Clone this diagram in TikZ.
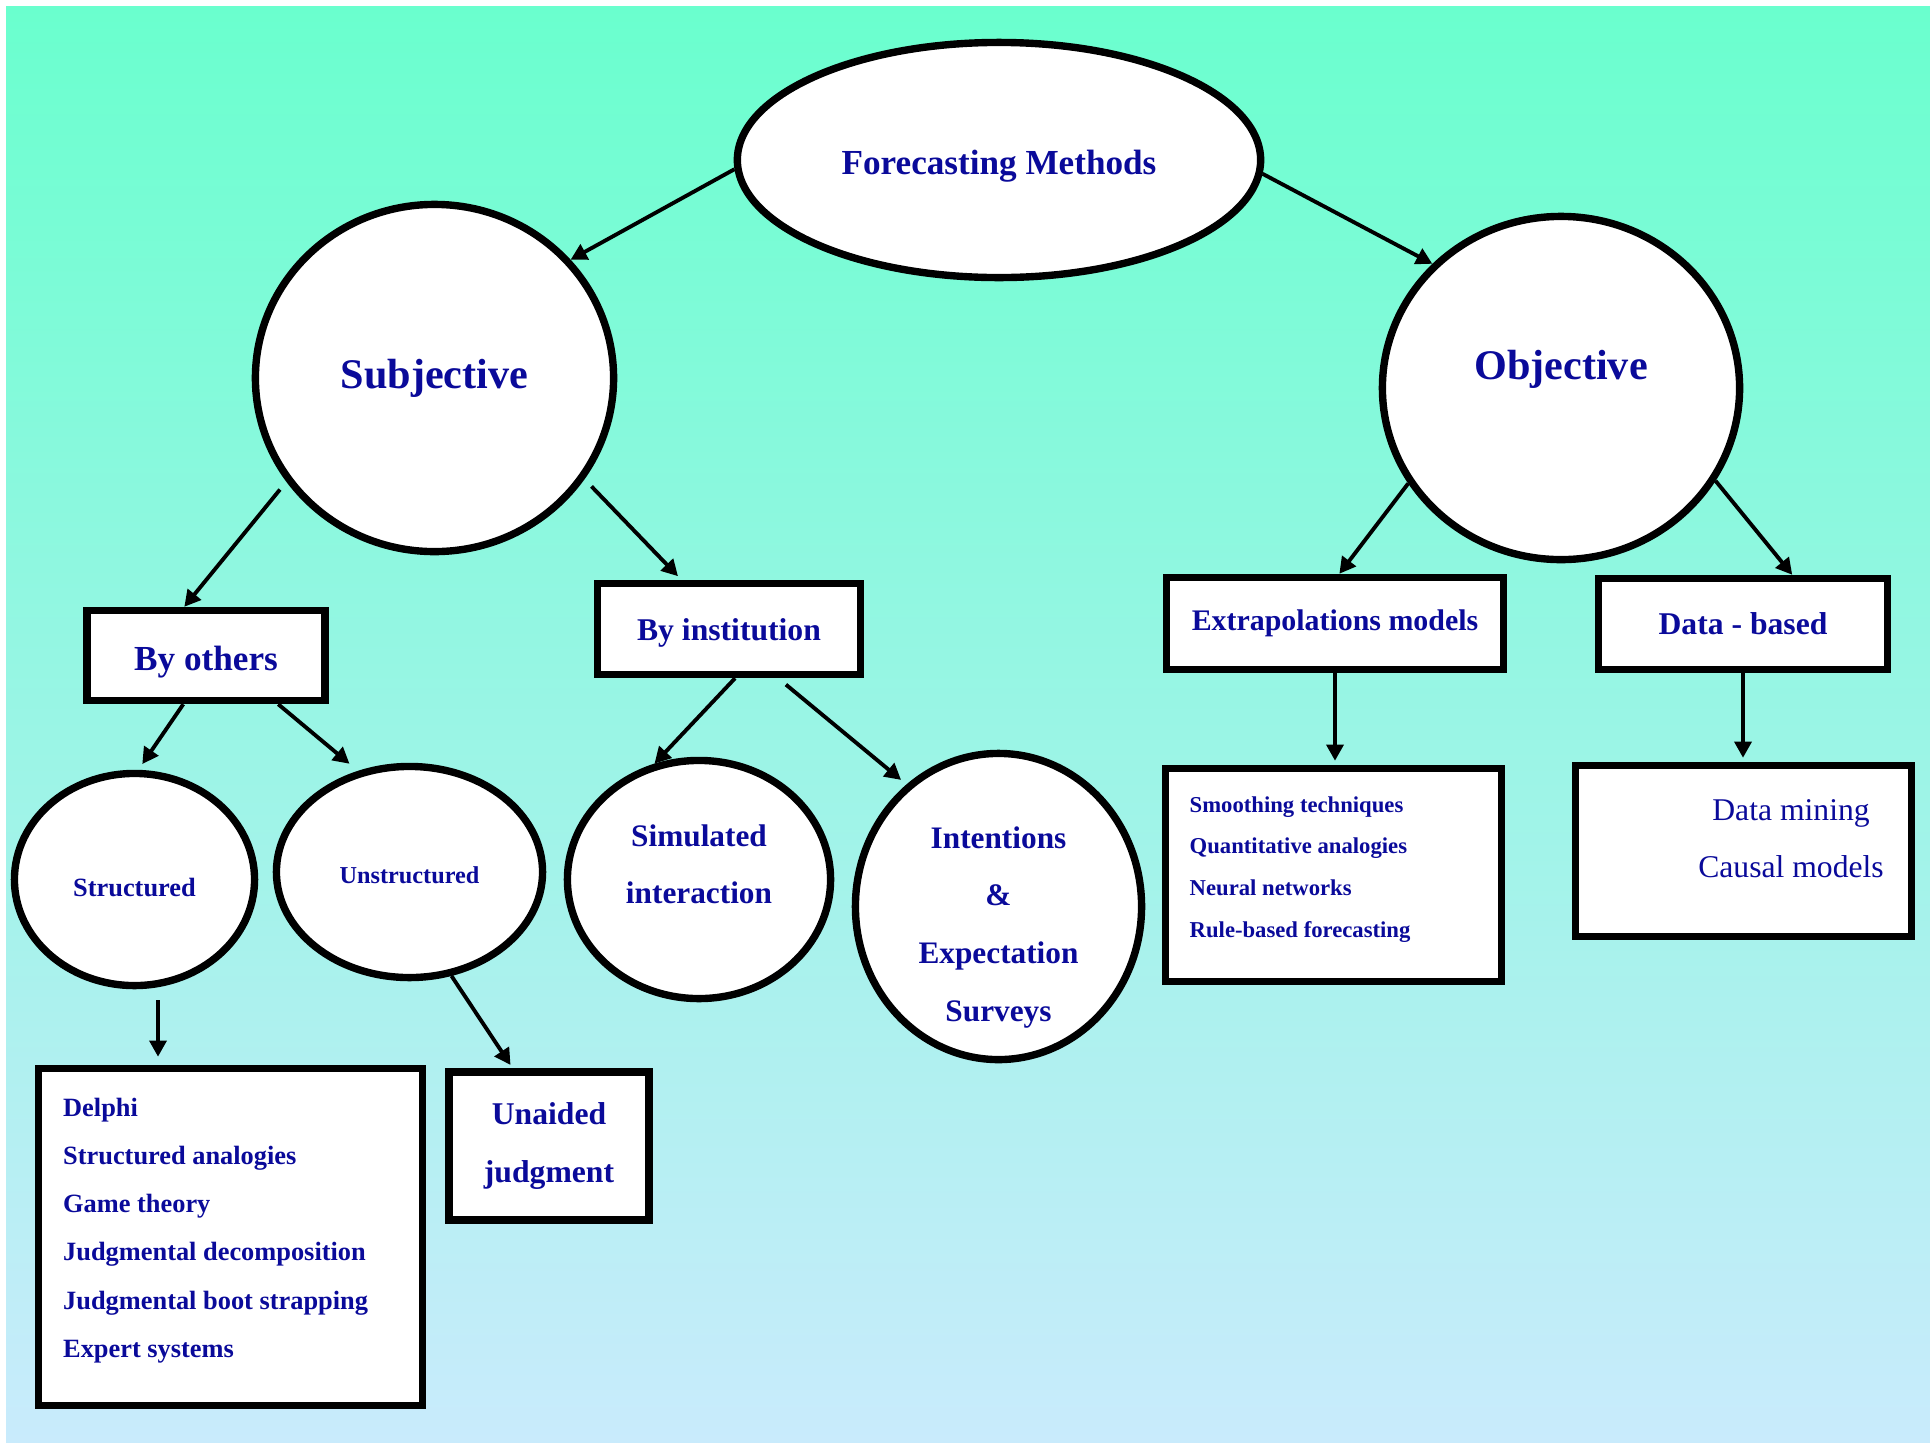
\documentclass[tikz,border=0pt]{standalone}
\usepackage{fontspec}
\setmainfont{Liberation Serif}
\usetikzlibrary{arrows.meta,positioning,shapes.geometric}
\definecolor{bgtop}{HTML}{6AFFCE}
\definecolor{bgbot}{HTML}{C9EBFC}
\definecolor{navy}{HTML}{0A0A9A}
\newcommand{\fsz}[2]{\fontsize{#1}{#2}\selectfont}
\tikzset{
  oval/.style={ellipse,draw=black,line width=2.1pt,fill=white,inner sep=0pt,
    text=navy,align=center},
  boxnode/.style={rectangle,draw=black,line width=2.1pt,fill=white,inner sep=0pt,
    text=navy,align=center},
  listitem/.style={text=navy,anchor=base west,inner sep=0pt},
  arr/.style={-{Triangle[length=4.6pt,width=4.8pt]},line width=1.1pt}
}
\begin{document}
\begin{tikzpicture}[x=0.01cm,y=-0.01cm]
    \useasboundingbox (0,0) rectangle (1930,1442);
    \fill[white] (0,0) rectangle (1930,1442);
    \shade[top color=bgtop,bottom color=bgbot] (6,6) rectangle (1930,1442);
    % top level
    \node[oval,minimum width=5.23cm,minimum height=2.35cm,font=\fsz{10}{12}\bfseries,
      text height=8pt,text depth=0pt] (fm) at (999,160) {Forecasting Methods};
    \node[oval,minimum width=3.58cm,minimum height=3.47cm,font=\fsz{12}{14}\bfseries]
      (subj) at (434.5,378) {Subjective};
    \node[oval,minimum width=3.57cm,minimum height=3.43cm,font=\fsz{12}{14}\bfseries,
      text height=9pt,text depth=13.8pt] (obj) at (1561,388) {Objective};
    % second level
    \node[boxnode,minimum width=2.38cm,minimum height=0.90cm,font=\fsz{10}{12}\bfseries,
      text height=8.6pt,text depth=0pt] (byothers) at (206,655.5) {By others};
    \node[boxnode,minimum width=2.63cm,minimum height=0.91cm,font=\fsz{9}{11}\bfseries,
      text height=6.3pt,text depth=0pt] (byinst) at (729,629) {By institution};
    \node[boxnode,minimum width=3.37cm,minimum height=0.92cm,font=\fsz{8.5}{10}\bfseries]
      (extrap) at (1335,623.5) {Extrapolations models};
    \node[boxnode,minimum width=2.89cm,minimum height=0.91cm,font=\fsz{9}{11}\bfseries]
      (databased) at (1743,624) {Data - based};
    % third level
    \node[oval,minimum width=2.40cm,minimum height=2.12cm,font=\fsz{7.5}{9}\bfseries,
      text height=9.9pt,text depth=0pt] (struct) at (134.5,879.5) {Structured};
    \node[oval,minimum width=2.66cm,minimum height=2.11cm,font=\fsz{6.9}{8}\bfseries,
      text height=6.7pt,text depth=0pt] (unstruct) at (409.5,872) {Unstructured};
    \node[oval,minimum width=2.63cm,minimum height=2.38cm,font=\fsz{8.9}{16.2}\bfseries,
      text height=13.4pt,text depth=0pt] (simint) at (699,879.5) {Simulated\\interaction};
    \node[oval,minimum width=2.86cm,minimum height=3.06cm,font=\fsz{8.9}{16.4}\bfseries,
      text height=65.2pt,text depth=0pt,inner ysep=-4pt] (intent) at (998.5,906.5)
      {Intentions\\\&\\Expectation\\Surveys};
    \node[boxnode,minimum width=3.36cm,minimum height=2.13cm] (smooth) at (1333.5,875) {};
    \node[boxnode,minimum width=3.36cm,minimum height=1.71cm] (dmbox) at (1743.5,851) {};
    % bottom level
    \node[boxnode,minimum width=3.84cm,minimum height=3.37cm] (delphibox) at (230.5,1237) {};
    \node[boxnode,minimum width=2.00cm,minimum height=1.48cm,font=\fsz{9}{16.5}\bfseries]
      (unaided) at (549,1146) {Unaided\\judgment};
    % lists
    \foreach \txt [count=\i from 0] in {Smoothing techniques,Quantitative analogies,
      Neural networks,Rule-based forecasting}
      \node[listitem,font=\fsz{6.45}{8}\bfseries] (extr\i) at (1189,812+41.7*\i) {\txt};
    \node[listitem,anchor=base,font=\fsz{9}{11}] (dm0) at (1791,820) {Data mining};
    \node[listitem,anchor=base,font=\fsz{9}{11}] (dm1) at (1791,877) {Causal models};
    \foreach \txt [count=\i from 0] in {Delphi,Structured analogies,Game theory,
      Judgmental decomposition,Judgmental boot strapping,Expert systems}
      \node[listitem,font=\fsz{7.5}{9}\bfseries] (judg\i) at (62.5,1116+48.3*\i) {\txt};
    % connectors
    \draw[arr] (fm.182) -- (subj.41);
    \draw[arr] (fm.-3) -- (obj.136);
    \draw[arr,shorten <=0.1cm] (subj.215) -- (byothers.114);
    \draw[arr,shorten <=0.1cm,shorten >=0.05cm] (subj.-34) -- (byinst.134);
    \draw[arr] (obj.212) -- (extrap.85);
    \draw[arr] (obj.-31) -- (databased.45);
    \draw[arr,shorten >=0.07cm] (byothers.245) -- (struct.88);
    \draw[arr,shorten >=0.11cm] (byothers.-34) -- (unstruct.117);
    \draw[arr] (byinst.-83) -- (simint.111);
    \draw[arr,shorten <=0.1cm,shorten >=0.07cm] (byinst.-45) -- (intent.127);
    \draw[arr,shorten >=0.04cm] (extrap.south) -- (extrap.south |- smooth.north);
    \draw[arr,shorten >=0.04cm] (databased.south) -- (databased.south |- dmbox.north);
    \draw[arr,shorten <=0.11cm,shorten >=0.08cm] ([xshift=0.235cm]struct.south)
      -- ([xshift=0.235cm]struct.south |- delphibox.north);
    \draw[arr,shorten >=0.04cm] (unstruct.-68) -- (unaided.115);
\end{tikzpicture}
\end{document}
